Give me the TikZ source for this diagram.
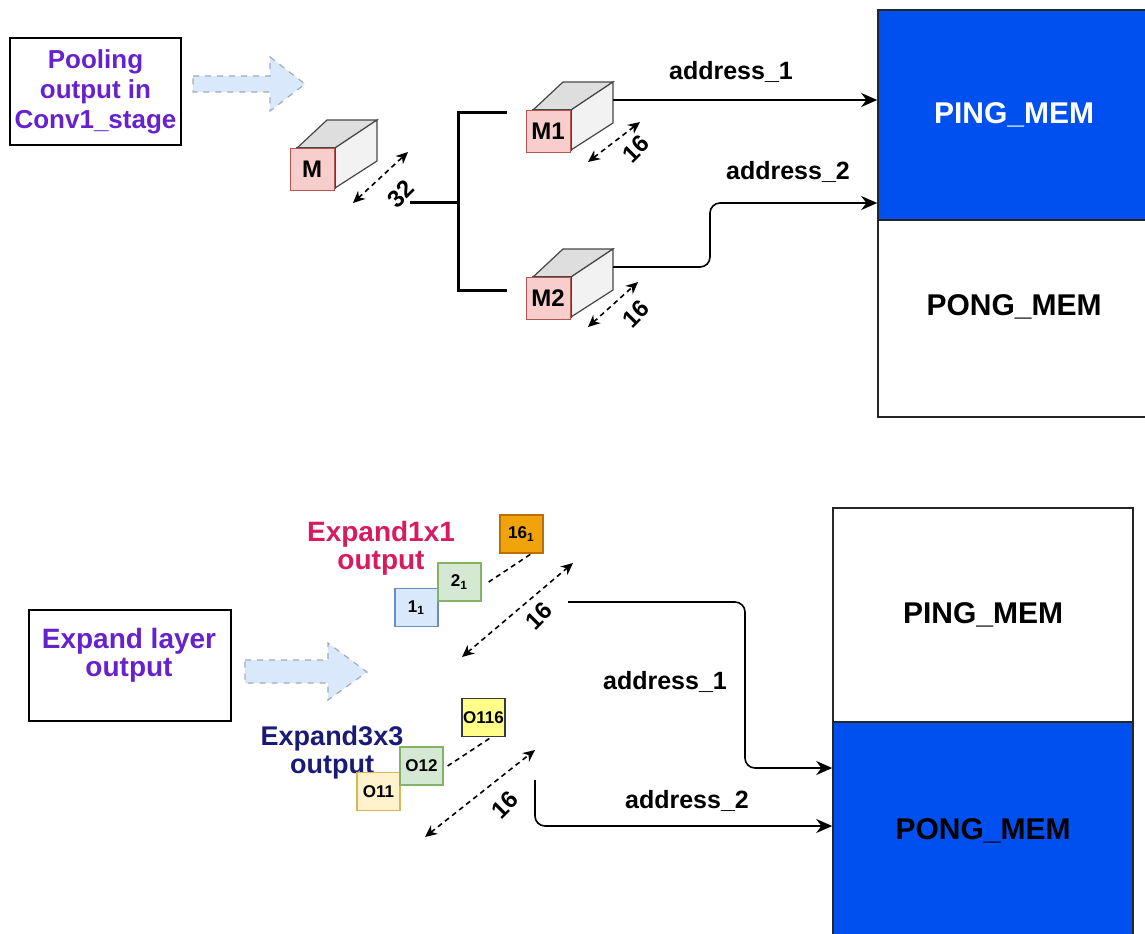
\documentclass[tikz,border=0pt]{standalone}
\usepackage{fontspec}
\setmainfont{Liberation Sans}
\usepackage{tikz}
\usetikzlibrary{arrows.meta,positioning}
\usepackage{xcolor}
\definecolor{memblue}{RGB}{0,80,239}
\definecolor{srcviolet}{RGB}{102,34,204}
\definecolor{exmagenta}{RGB}{216,27,96}
\definecolor{exnavy}{RGB}{26,26,120}
\definecolor{flowfill}{RGB}{218,232,252}
\definecolor{flowline}{RGB}{160,170,186}
\definecolor{pinkfill}{RGB}{248,206,204}
\definecolor{pinkline}{RGB}{184,84,80}
\definecolor{cubetop}{RGB}{222,222,222}
\definecolor{cubeside}{RGB}{242,242,242}
\definecolor{cubeline}{RGB}{70,70,70}
\definecolor{bluefill}{RGB}{218,232,252}
\definecolor{blueline}{RGB}{108,142,191}
\definecolor{greenfill}{RGB}{213,232,212}
\definecolor{greenline}{RGB}{130,179,102}
\definecolor{orangefill}{RGB}{240,163,10}
\definecolor{orangeline}{RGB}{189,112,0}
\definecolor{creamfill}{RGB}{255,242,204}
\definecolor{creamline}{RGB}{214,182,86}
\definecolor{yellowfill}{RGB}{255,255,136}
\definecolor{yellowline}{RGB}{54,57,61}
\tikzstyle{srcbox} = [rectangle, draw=black, line width=0.8pt, align=center, inner sep=0pt, font=\bfseries\fontsize{13}{15}\selectfont]
\tikzstyle{srctext} = [align=center, inner sep=0pt, font=\bfseries\fontsize{14}{14}\selectfont]
\tikzstyle{flowarrow} = [fill=flowfill, draw=flowline, dashed, line width=0.6pt]
\tikzstyle{membox} = [rectangle, draw=black!85, line width=0.8pt, text centered, font=\bfseries\fontsize{15}{17}\selectfont]
\tikzstyle{mlabel} = [rectangle, draw=pinkline, fill=pinkfill, minimum width=22pt, minimum height=21pt, inner sep=0pt, font=\bfseries\fontsize{12}{14}\selectfont]
\tikzstyle{cellbox} = [rectangle, minimum width=21.5pt, minimum height=19pt, inner sep=0pt, line width=0.6pt, font=\bfseries\fontsize{8.5}{9}\selectfont]
\tikzstyle{wire} = [line width=0.8pt, ->, >={Stealth[length=8pt,width=7pt]}, rounded corners=5pt]
\tikzstyle{bracket} = [line width=1.5pt]
\tikzstyle{dimline} = [line width=0.8pt, dash pattern=on 2.5pt off 2pt, <->, >={Stealth[length=6pt,width=5.5pt]}]
\tikzstyle{gapline} = [line width=0.8pt, dash pattern=on 2.5pt off 2pt]
\tikzstyle{dimtext} = [rotate=45, inner sep=0pt, font=\bfseries\fontsize{12}{12}\selectfont]
\tikzstyle{addr} = [inner sep=0pt, font=\bfseries\fontsize{12.5}{14}\selectfont]

% box with top and side face, pink tag in front
\newcommand{\memcube}[4]{%
  \begin{scope}[shift={(#2,#3)}]
    \filldraw[draw=cubeline, line width=0.6pt, fill=cubetop] (0,0) -- (30,-28) -- (80,-28) -- (38,0) -- cycle;
    \filldraw[draw=cubeline, line width=0.6pt, fill=cubeside] (38,0) -- (80,-28) -- (80,13) -- (38,40) -- cycle;
    \filldraw[draw=cubeline, line width=0.6pt, fill=white] (0,0) rectangle (38,40);
    \node[mlabel] (#1) at (15,21) {#4};
    \coordinate (#1out) at (80,-10);
  \end{scope}}

\begin{document}
\begin{tikzpicture}[x=0.5pt, y=-0.5pt]
\useasboundingbox (0,0) rectangle (1145,933);

% Pooling stage (top)
\node[srcbox, minimum width=85.5pt, minimum height=53.5pt, text=srcviolet] (poolbox) at (95.5,91.5) {Pooling\\output in\\Conv1\_stage};
\filldraw[flowarrow] (193,76) -- (270,76) -- (270,57) -- (305,84) -- (270,111) -- (270,92) -- (193,92) -- cycle;

\memcube{M}{297}{148}{M}
\memcube{M1}{533}{110}{M1}
\memcube{M2}{533}{277}{M2}

\draw[dimline] (353,203) -- (408,152);
\node[dimtext] (dimM) at (401,194) {32};
\draw[dimline] (588,162) -- (640,122);
\node[dimtext] (dimMa) at (636,149) {16};
\draw[dimline] (588,327) -- (638,282);
\node[dimtext] (dimMb) at (636,314) {16};

% split of M into M1 / M2
\coordinate (splitin) at (410,202);
\draw[bracket] (splitin) -- (458,202);
\draw[bracket] (507,112) -- (458,112) -- (458,290) -- (507,290);

\node[membox, fill=memblue, text=white, minimum width=136pt, minimum height=105pt] (pingA) at (1014,115) {PING\_MEM};
\node[membox, minimum width=136pt, minimum height=98.5pt, text depth=13pt] (pongA) at (1014,318.5) {PONG\_MEM};

\coordinate (jogA) at (710,203);
\draw[wire] (M1out) -- (M1out -| pingA.west);
\draw[wire] (M2out) -- (M2out -| jogA) -- (jogA) -- (jogA -| pingA.west);
\node[addr] (addrAa) at (731,72) {address\_1};
\node[addr] (addrAb) at (788,172) {address\_2};

% Expand stage (bottom)
\node[srcbox, minimum width=101pt, minimum height=55.5pt] (expbox) at (130,665.5) {};
\node[srctext, text=srcviolet] (exptxt) at (129,655) {Expand layer\\output};
\filldraw[flowarrow] (245,660) -- (328,660) -- (328,643) -- (367,672) -- (328,700) -- (328,683) -- (245,683) -- cycle;

\node[srctext, text=exmagenta] (ex1txt) at (381,548) {Expand1x1\\output};
\node[cellbox, fill=bluefill, draw=blueline] (c11) at (416.5,607.5) {1\textsubscript{1}};
\node[cellbox, fill=greenfill, draw=greenline] (c21) at (459.5,582) {2\textsubscript{1}};
\node[cellbox, fill=orangefill, draw=orangeline] (c161) at (521.5,534) {16\textsubscript{1}};
\draw[gapline] ([xshift=3.5pt]c21.east) -- ([xshift=5pt]c161.south);
\draw[dimline] (462,657) -- (573,563);
\node[dimtext] (dimE1) at (539,616) {16};

\node[srctext, text=exnavy, font=\bfseries\fontsize{13.5}{14}\selectfont] (ex3txt) at (332,753) {Expand3x3\\output};
\node[cellbox, fill=creamfill, draw=creamline] (o11) at (378.5,791.5) {O11};
\node[cellbox, fill=greenfill, draw=greenline] (o12) at (421.5,766) {O12};
\node[cellbox, fill=yellowfill, draw=yellowline] (o116) at (483.5,717.5) {O116};
\draw[gapline] ([xshift=2pt]o12.east) -- ([xshift=4pt]o116.south);
\draw[dimline] (425,837) -- (535,750);
\node[dimtext] (dimE3) at (505,805) {16};

\node[membox, minimum width=150pt, minimum height=107pt] (pingB) at (983,615) {PING\_MEM};
\node[membox, fill=memblue, text=black, minimum width=150pt, minimum height=109pt] (pongB) at (983,831) {PONG\_MEM};

\coordinate (e1out) at (568,602);
\coordinate (e1bend) at (745,768);
\coordinate (e3out) at (535,780);
\coordinate (e3bend) at (535,826);
\draw[wire] (e1out) -- (e1out -| e1bend) -- (e1bend) -- (e1bend -| pongB.west);
\draw[wire] (e3out) -- (e3bend) -- (e3bend -| pongB.west);
\node[addr] (addrBa) at (665,682) {address\_1};
\node[addr] (addrBb) at (687,801) {address\_2};
\end{tikzpicture}
\end{document}
